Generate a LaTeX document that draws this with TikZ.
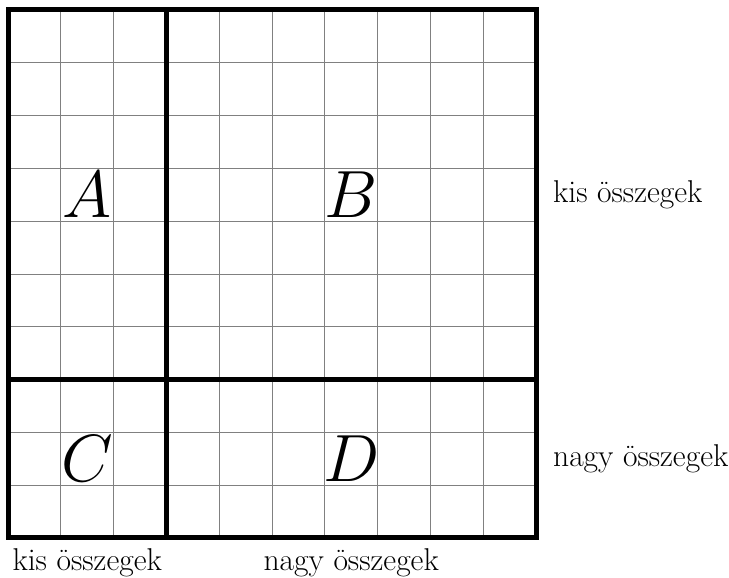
\RequirePackage{fix-cm}
\documentclass[tikz,border=0pt]{standalone}
\usetikzlibrary{positioning}
\tikzset{
  cellgrid/.style={draw=gray, line width=0.5pt},
  blockline/.style={draw=black, line width=2.7pt},
  blocklabel/.style={font=\fontsize{36}{40}\selectfont},
  sidelabel/.style={font=\fontsize{17}{20}\selectfont},
}
\begin{document}
\begin{tikzpicture}[x=1cm,y=1cm]
  \useasboundingbox (-0.152,-0.758) rectangle (13.655,10.189);
  % thin cell grid
  \draw[cellgrid] (0,0) grid (10,10);
  % block borders
  \draw[blockline] (0,0) rectangle (10,10);
  \draw[blockline] (3,0) -- (3,10);
  \draw[blockline] (0,3) -- (10,3);
  % block names
  \node[blocklabel] (A) at (1.5,6.5) {$A$};
  \node[blocklabel] (B) at (6.5,6.5) {$B$};
  \node[blocklabel] (C) at (1.5,1.5) {$C$};
  \node[blocklabel] (D) at (6.5,1.5) {$D$};
  % row and column labels
  \node[sidelabel, anchor=west] (rowsmall) at (10.2,6.5) {kis összegek};
  \node[sidelabel, anchor=west] (rowlarge) at (10.2,1.5) {nagy összegek};
  \node[sidelabel, anchor=north] (colsmall) at (1.5,-0.08) {kis összegek};
  \node[sidelabel, anchor=north] (collarge) at (6.5,-0.08) {nagy összegek};
\end{tikzpicture}
\end{document}
